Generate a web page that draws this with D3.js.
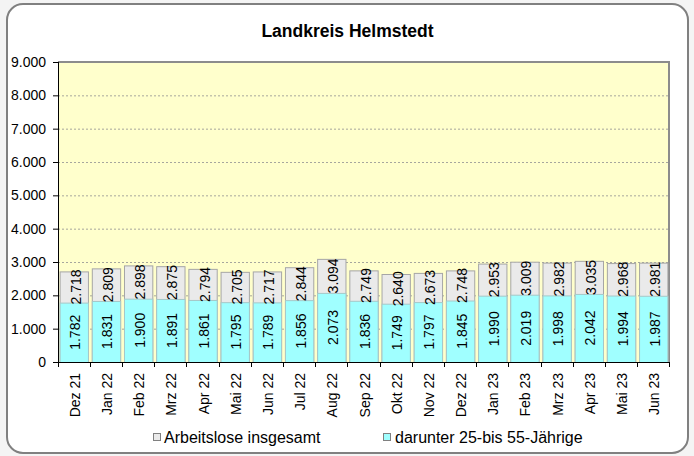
<!DOCTYPE html>
<html><head><meta charset="utf-8">
<script src="https://cdn.jsdelivr.net/npm/d3@7"></script>
<style>
body{margin:0;background:#f4f4f4;}
svg{display:block;}
text{font-family:"Liberation Sans",Arial,sans-serif;fill:#000;}
</style></head>
<body><svg id="c" width="694" height="456"></svg>
<script>
const categories = ["Dez 21","Jan 22","Feb 22","Mrz 22","Apr 22","Mai 22","Jun 22","Jul 22","Aug 22","Sep 22","Okt 22","Nov 22","Dez 22","Jan 23","Feb 23","Mrz 23","Apr 23","Mai 23","Jun 23"];
const totalValues = [2718,2809,2898,2875,2794,2705,2717,2844,3094,2749,2640,2673,2748,2953,3009,2982,3035,2968,2981];
const subValues = [1782,1831,1900,1891,1861,1795,1789,1856,2073,1836,1749,1797,1845,1990,2019,1998,2042,1994,1987];
const yTicks = [0,1000,2000,3000,4000,5000,6000,7000,8000,9000];
const seriesNames = ["Arbeitslose insgesamt","darunter 25-bis 55-Jährige"];
const titleText = "Landkreis Helmstedt";

const loc = d3.formatLocale({decimal:",",thousands:".",grouping:[3],currency:["","€"]});
const fmt = loc.format(",d");

const svg = d3.select("#c");
const L=58,R=669,T=62,B=362;

svg.append("rect").attr("x",7).attr("y",4).attr("width",681).attr("height",449)
  .attr("rx",16).attr("fill","#fff").attr("stroke","#808080").attr("stroke-width",2);

svg.append("text").attr("x",347.5).attr("y",37).attr("text-anchor","middle")
  .attr("font-size",17.5).attr("font-weight","bold").text(titleText);

const x = d3.scaleBand().domain(categories).range([L,R]).paddingInner(0.12).paddingOuter(0.05);
const y = d3.scaleLinear().domain([0,9000]).range([B,T]);

svg.append("rect").attr("x",L).attr("y",T).attr("width",R-L).attr("height",B-T).attr("fill","#FFFFCC");

svg.append("g").selectAll("line").data(yTicks.filter(d=>d>0&&d<9000)).join("line")
  .attr("x1",L).attr("x2",R).attr("y1",d=>y(d)+0.5).attr("y2",d=>y(d)+0.5)
  .attr("stroke","#909090").attr("stroke-width",0.8).attr("stroke-dasharray","2,2");

svg.append("path").attr("d",`M${L},${T} H${R} V${B}`).attr("fill","none").attr("stroke","#8c8c8c").attr("stroke-width",2);

const bw = x.bandwidth();
const g = svg.append("g");
g.selectAll("rect.tot").data(categories).join("rect").attr("class","tot")
  .attr("x",d=>x(d)+0.5).attr("width",bw)
  .attr("y",(d,i)=>y(totalValues[i])+0.5).attr("height",(d,i)=>y(0)-y(totalValues[i]))
  .attr("fill","#EAEAEA").attr("stroke","#A6A6A6").attr("stroke-width",1);
g.selectAll("rect.sub").data(categories).join("rect").attr("class","sub")
  .attr("x",d=>x(d)+0.5).attr("width",bw)
  .attr("y",(d,i)=>y(subValues[i])+0.5).attr("height",(d,i)=>y(0)-y(subValues[i]))
  .attr("fill","#A0FFFF").attr("stroke","#A6C8C8").attr("stroke-width",1);

g.selectAll("text.sv").data(categories).join("text").attr("class","sv")
  .attr("transform",(d,i)=>`translate(${x(d)+bw/2+1.5},${y(subValues[i]/2)}) rotate(-90)`)
  .attr("text-anchor","middle").attr("dominant-baseline","central").attr("font-size",14)
  .text((d,i)=>fmt(subValues[i]));
g.selectAll("text.tv").data(categories).join("text").attr("class","tv")
  .attr("transform",(d,i)=>`translate(${x(d)+bw/2+2},${y((subValues[i]+totalValues[i])/2)}) rotate(-90)`)
  .attr("text-anchor","middle").attr("dominant-baseline","central").attr("font-size",14)
  .text((d,i)=>fmt(totalValues[i]));

svg.append("line").attr("x1",L+0.5).attr("x2",L+0.5).attr("y1",T).attr("y2",B+5).attr("stroke","#000");
svg.append("line").attr("x1",L).attr("x2",R).attr("y1",B+0.5).attr("y2",B+0.5).attr("stroke","#000");
svg.append("g").selectAll("line").data(yTicks).join("line")
  .attr("x1",L-5).attr("x2",L).attr("y1",d=>y(d)+0.5).attr("y2",d=>y(d)+0.5).attr("stroke","#000");
svg.append("g").selectAll("text").data(yTicks).join("text")
  .attr("x",46).attr("y",d=>y(d)).attr("dominant-baseline","central").attr("text-anchor","end")
  .attr("font-size",14).text(d=>fmt(d));

const step = x.step();
const bounds = categories.map(d=>x(d)+bw/2-step/2).concat([x(categories[categories.length-1])+bw/2+step/2]);
svg.append("g").selectAll("line").data(bounds).join("line")
  .attr("x1",d=>Math.round(d)+0.5).attr("x2",d=>Math.round(d)+0.5).attr("y1",B).attr("y2",B+5).attr("stroke","#000");
svg.append("g").selectAll("text").data(categories).join("text")
  .attr("transform",d=>`translate(${x(d)+bw/2+1},373) rotate(-90)`)
  .attr("text-anchor","end").attr("dominant-baseline","central").attr("font-size",14).text(d=>d);

const leg = [{x:153,fill:"#EAEAEA",tx:164},{x:383,fill:"#A0FFFF",tx:395}];
leg.forEach((l,i)=>{
  svg.append("rect").attr("x",l.x+0.5).attr("y",433.5).attr("width",7).attr("height",7)
    .attr("fill",l.fill).attr("stroke","#808080");
  svg.append("text").attr("x",l.tx).attr("y",443).attr("font-size",16).text(seriesNames[i]);
});
</script></body></html>
